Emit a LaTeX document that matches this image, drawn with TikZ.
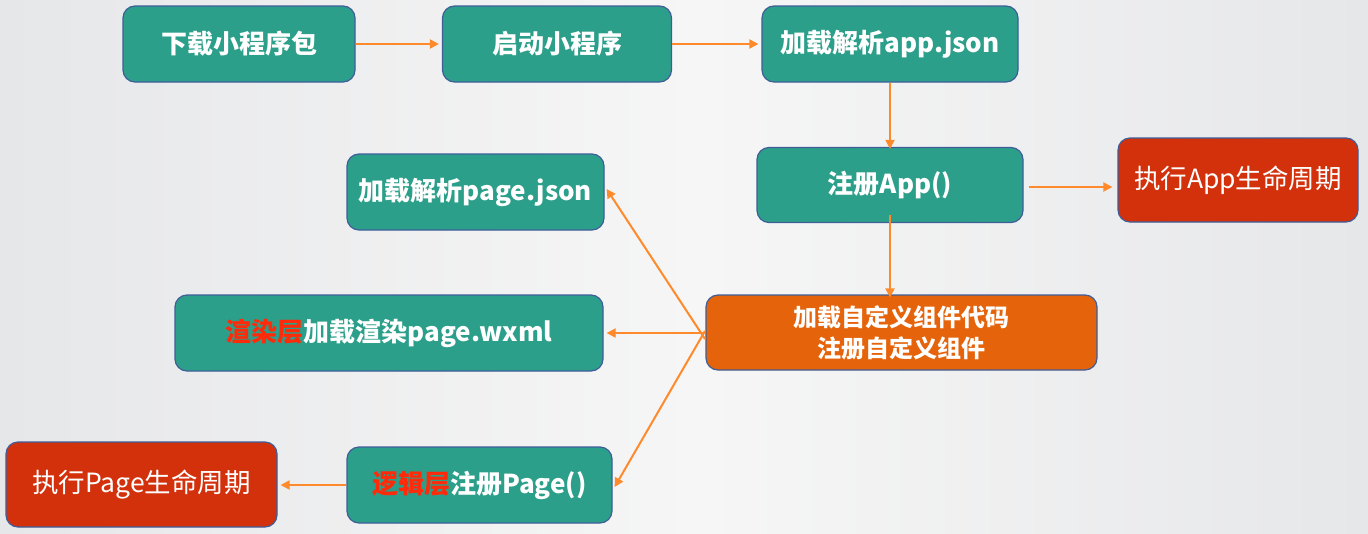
\documentclass[tikz,border=0pt]{standalone}
\usepackage{fontspec}
\setmainfont{Noto Sans CJK SC}
\usetikzlibrary{arrows.meta}
\definecolor{bgl}{HTML}{E6E7E9}
\definecolor{bgm}{HTML}{F6F6F6}
\definecolor{teal}{HTML}{2C9F8A}
\definecolor{edge}{HTML}{3F5D98}
\definecolor{redbox}{HTML}{D2310C}
\definecolor{orbox}{HTML}{E5630A}
\definecolor{arr}{HTML}{FF8A2B}
\definecolor{hl}{HTML}{FF2A0A}
\tikzset{
  box/.style={draw=edge, line width=1.2pt, rounded corners=12pt, text=white, font=\bfseries\fontsize{26}{30}\selectfont, align=center, inner sep=0pt},
  tbox/.style={box, fill=teal},
  rbox/.style={box, fill=redbox, font=\fontsize{26.5}{30}\selectfont},
  obox/.style={box, fill=orbox, font=\bfseries\fontsize{24}{31}\selectfont},
  conn/.style={draw=arr, line width=2pt, -{Triangle[length=9pt,width=9pt]}}
}
\begin{document}
\begin{tikzpicture}[x=1pt,y=-1pt]
\shade[left color=bgl, right color=bgm, shading angle=90] (0,0) rectangle (700,533);
\shade[left color=bgm, right color=bgl, shading angle=90] (700,0) rectangle (1368,533);
\useasboundingbox (0,0) rectangle (1368,533);
\node[tbox, minimum width=232pt, minimum height=76pt] (n1) at (239,44) {下载小程序包};
\node[tbox, minimum width=229pt, minimum height=76pt] (n2) at (557,44) {启动小程序};
\node[tbox, minimum width=256pt, minimum height=76pt] (n3) at (890,44) {加载解析app.json};
\node[tbox, minimum width=266pt, minimum height=75pt] (n4) at (890,185) {注册App()};
\node[rbox, minimum width=240pt, minimum height=84pt] (n5) at (1238,180) {执行App生命周期};
\node[tbox, minimum width=257pt, minimum height=76pt] (n6) at (475.5,192) {加载解析page.json};
\node[obox, minimum width=391pt, minimum height=75pt] (n7) at (901.5,332.5) {加载自定义组件代码\\注册自定义组件};
\node[tbox, minimum width=428pt, minimum height=76pt] (n8) at (389,333) {\textcolor{hl}{渲染层}加载渲染page.wxml};
\node[tbox, minimum width=265pt, minimum height=76pt] (n9) at (479.5,485) {\textcolor{hl}{逻辑层}注册Page()};
\node[rbox, minimum width=271pt, minimum height=85pt] (n10) at (141.5,484.5) {执行Page生命周期};
\coordinate (hub) at (705,333);
\draw[conn] (n1.east) -- ([xshift=-3pt]n2.west);
\draw[conn] (n2.east) -- ([xshift=-3pt]n3.west);
\draw[conn] (n3.south) -- ([yshift=-2pt]n4.north);
\draw[conn] ([shift={(5pt,-2pt)}]n4.east) -- ([shift={(-5pt,-2pt)}]n4.east -| n5.west);
\draw[conn] ([yshift=8pt]n4.south) -- ([yshift=-3pt]n7.north -| n4.south);
\draw[conn] ([yshift=-6pt]hub) -- ([shift={(2pt,3pt)}]n6.east);
\draw[conn] (hub) -- ([xshift=3pt]n8.east);
\draw[conn] ([yshift=2pt]hub) -- ([xshift=2pt,yshift=-2pt]n9.east);
\draw[conn] (n9.west) -- ([xshift=3pt]n9.west -| n10.east);
\end{tikzpicture}
\end{document}
